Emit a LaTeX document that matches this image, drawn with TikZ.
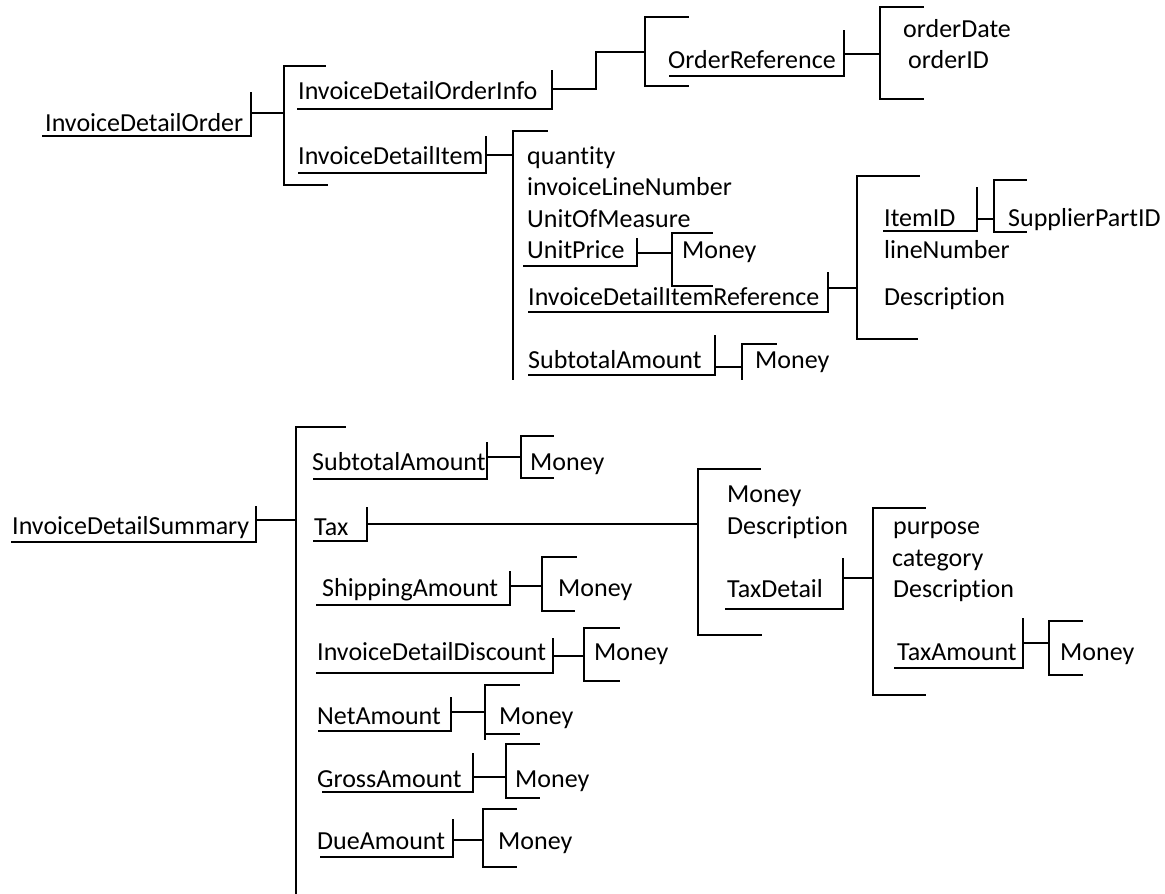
\documentclass[tikz,border=0pt]{standalone}
\usepackage{fontspec}
\setmainfont{Carlito}[Ligatures={NoCommon,NoContextual}]
\begin{document}
\begin{tikzpicture}[x=1pt,y=-1pt,
  lbl/.style={anchor=base west,inner sep=0pt,font=\fontsize{26}{30}\selectfont},
  ln/.style={line width=2.4pt,line cap=rect,line join=miter}]
\useasboundingbox (0,0) rectangle (1165,894);
% ---------- top part: labels ----------
\node[lbl] (ido)  at (45,131)  {InvoiceDetailOrder};
\node[lbl] (idoi) at (298,99)  {InvoiceDetailOrderInfo};
\node[lbl] (idi)  at (298,164) {InvoiceDetailItem};
\node[lbl] (oref) at (668,68)  {OrderReference};
\node[lbl] (odat) at (903,37)  {orderDate};
\node[lbl] (oid)  at (908,68)  {orderID};
\node[lbl] (qty)  at (527,164) {quantity};
\node[lbl] (iln)  at (527,195) {invoiceLineNumber};
\node[lbl] (uom)  at (527,227) {UnitOfMeasure};
\node[lbl] (up)   at (527,258) {UnitPrice};
\node[lbl] (upm)  at (682,258) {Money};
\node[lbl] (idir) at (528,305) {InvoiceDetailItemReference};
\node[lbl] (iid)  at (884,226) {ItemID};
\node[lbl] (spid) at (1008,226) {SupplierPartID};
\node[lbl] (lnum) at (884,258) {lineNumber};
\node[lbl] (desc1) at (884,305) {Description};
\node[lbl] (sta1) at (528,368) {SubtotalAmount};
\node[lbl] (stm1) at (755,368) {Money};
% ---------- top part: underlines with ticks ----------
\draw[ln] (43,136) -- (251,136) -- (251,93);
\draw[ln] (298,109) -- (552,109) -- (552,71);
\draw[ln] (670,76) -- (844,76) -- (844,31);
\draw[ln] (299,173) -- (486,173) -- (486,137);
\draw[ln] (524,266) -- (637,266) -- (637,239);
\draw[ln] (529,312) -- (828,312) -- (828,273);
\draw[ln] (884,231) -- (977,231) -- (977,188);
\draw[ln] (529,375) -- (715,375) -- (715,336);
% ---------- top part: brackets ----------
\draw[ln] (325,66) -- (284,66) -- (284,185) -- (327,185);
\draw[ln] (688,17) -- (645,17) -- (645,86) -- (688,86);
\draw[ln] (923,7) -- (880,7) -- (880,99) -- (923,99);
\draw[ln] (547,131) -- (513,131) -- (513,379);
\draw[ln] (712,233) -- (672,233) -- (672,286) -- (712,286);
\draw[ln] (919,176) -- (857,176) -- (857,339) -- (917,339);
\draw[ln] (1026,180) -- (994,180) -- (994,232) -- (1026,232);
\draw[ln] (776,344) -- (742,344) -- (742,379);
% ---------- top part: connectors ----------
\coordinate (k1) at (251,113); \coordinate (b1) at (284,113);
\coordinate (k2) at (552,89);  \coordinate (s2) at (596,89);
\coordinate (t2) at (596,52);  \coordinate (b2) at (645,52);
\coordinate (k3) at (844,54);  \coordinate (b3) at (880,54);
\coordinate (k4) at (486,155); \coordinate (b4) at (513,155);
\coordinate (k5) at (637,253); \coordinate (b5) at (672,253);
\coordinate (k6) at (828,288); \coordinate (b6) at (857,288);
\coordinate (k7) at (977,219); \coordinate (b7) at (994,219);
\coordinate (k8) at (715,367); \coordinate (b8) at (742,367);
\draw[ln] (k1) -- (b1);
\draw[ln] (k2) -- (s2) -- (t2) -- (b2);
\draw[ln] (k3) -- (b3);
\draw[ln] (k4) -- (b4);
\draw[ln] (k5) -- (b5);
\draw[ln] (k6) -- (b6);
\draw[ln] (k7) -- (b7);
\draw[ln] (k8) -- (b8);
% ---------- bottom part: labels ----------
\node[lbl] (ids)  at (12,534)  {InvoiceDetailSummary};
\node[lbl] (sta2) at (312,470) {SubtotalAmount};
\node[lbl] (stm2) at (530,470) {Money};
\node[lbl] (tax)  at (314,535) {Tax};
\node[lbl] (txm)  at (727,502) {Money};
\node[lbl] (txd)  at (727,534) {Description};
\node[lbl] (txdt) at (727,597) {TaxDetail};
\node[lbl] (purp) at (893,534) {purpose};
\node[lbl] (cat)  at (892,566) {category};
\node[lbl] (desc2) at (893,597) {Description};
\node[lbl] (txa)  at (897,660) {TaxAmount};
\node[lbl] (txam) at (1060,660) {Money};
\node[lbl] (shp)  at (322,596) {ShippingAmount};
\node[lbl] (shpm) at (558,596) {Money};
\node[lbl] (idd)  at (317,660) {InvoiceDetailDiscount};
\node[lbl] (iddm) at (594,660) {Money};
\node[lbl] (net)  at (317,724) {NetAmount};
\node[lbl] (netm) at (499,724) {Money};
\node[lbl] (grs)  at (317,787) {GrossAmount};
\node[lbl] (grsm) at (515,787) {Money};
\node[lbl] (due)  at (317,849) {DueAmount};
\node[lbl] (duem) at (498,849) {Money};
% ---------- bottom part: underlines with ticks ----------
\draw[ln] (12,542) -- (256,542) -- (256,507);
\draw[ln] (314,479) -- (487,479) -- (487,443);
\draw[ln] (314,541) -- (367,541) -- (367,508);
\draw[ln] (317,605) -- (510,605) -- (510,572);
\draw[ln] (726,609) -- (843,609) -- (843,559);
\draw[ln] (895,668) -- (1023,668) -- (1023,619);
\draw[ln] (317,673) -- (553,673) -- (553,639);
\draw[ln] (319,731) -- (451,731) -- (451,698);
\draw[ln] (323,792) -- (473,792) -- (473,754);
\draw[ln] (321,857) -- (453,857) -- (453,820);
% ---------- bottom part: brackets ----------
\draw[ln] (345,427) -- (296,427) -- (296,894);
\draw[ln] (553,436) -- (521,436) -- (521,478) -- (553,478);
\draw[ln] (760,469) -- (698,469) -- (698,635) -- (761,635);
\draw[ln] (576,557) -- (542,557) -- (542,611) -- (574,611);
\draw[ln] (925,508) -- (873,508) -- (873,695) -- (925,695);
\draw[ln] (1082,621) -- (1049,621) -- (1049,675) -- (1082,675);
\draw[ln] (619,628) -- (584,628) -- (584,681) -- (619,681);
\draw[ln] (519,685) -- (485,685) -- (485,739);
\draw[ln] (485,734) -- (519,734);
\draw[ln] (539,744) -- (506,744) -- (506,798) -- (539,798);
\draw[ln] (516,809) -- (483,809) -- (483,867) -- (516,867);
% ---------- bottom part: connectors ----------
\coordinate (m1) at (256,520); \coordinate (n1) at (296,520);
\coordinate (m2) at (487,457); \coordinate (n2) at (521,457);
\coordinate (m3) at (367,524); \coordinate (n3) at (698,524);
\coordinate (m4) at (510,586); \coordinate (n4) at (542,586);
\coordinate (m5) at (843,578); \coordinate (n5) at (873,578);
\coordinate (m6) at (1023,643); \coordinate (n6) at (1049,643);
\coordinate (m7) at (553,656); \coordinate (n7) at (584,656);
\coordinate (m8) at (451,712); \coordinate (n8) at (485,712);
\coordinate (m9) at (473,777); \coordinate (n9) at (506,777);
\coordinate (m10) at (453,840); \coordinate (n10) at (483,840);
\draw[ln] (m1) -- (n1);
\draw[ln] (m2) -- (n2);
\draw[ln] (m3) -- (n3);
\draw[ln] (m4) -- (n4);
\draw[ln] (m5) -- (n5);
\draw[ln] (m6) -- (n6);
\draw[ln] (m7) -- (n7);
\draw[ln] (m8) -- (n8);
\draw[ln] (m9) -- (n9);
\draw[ln] (m10) -- (n10);
\end{tikzpicture}
\end{document}
